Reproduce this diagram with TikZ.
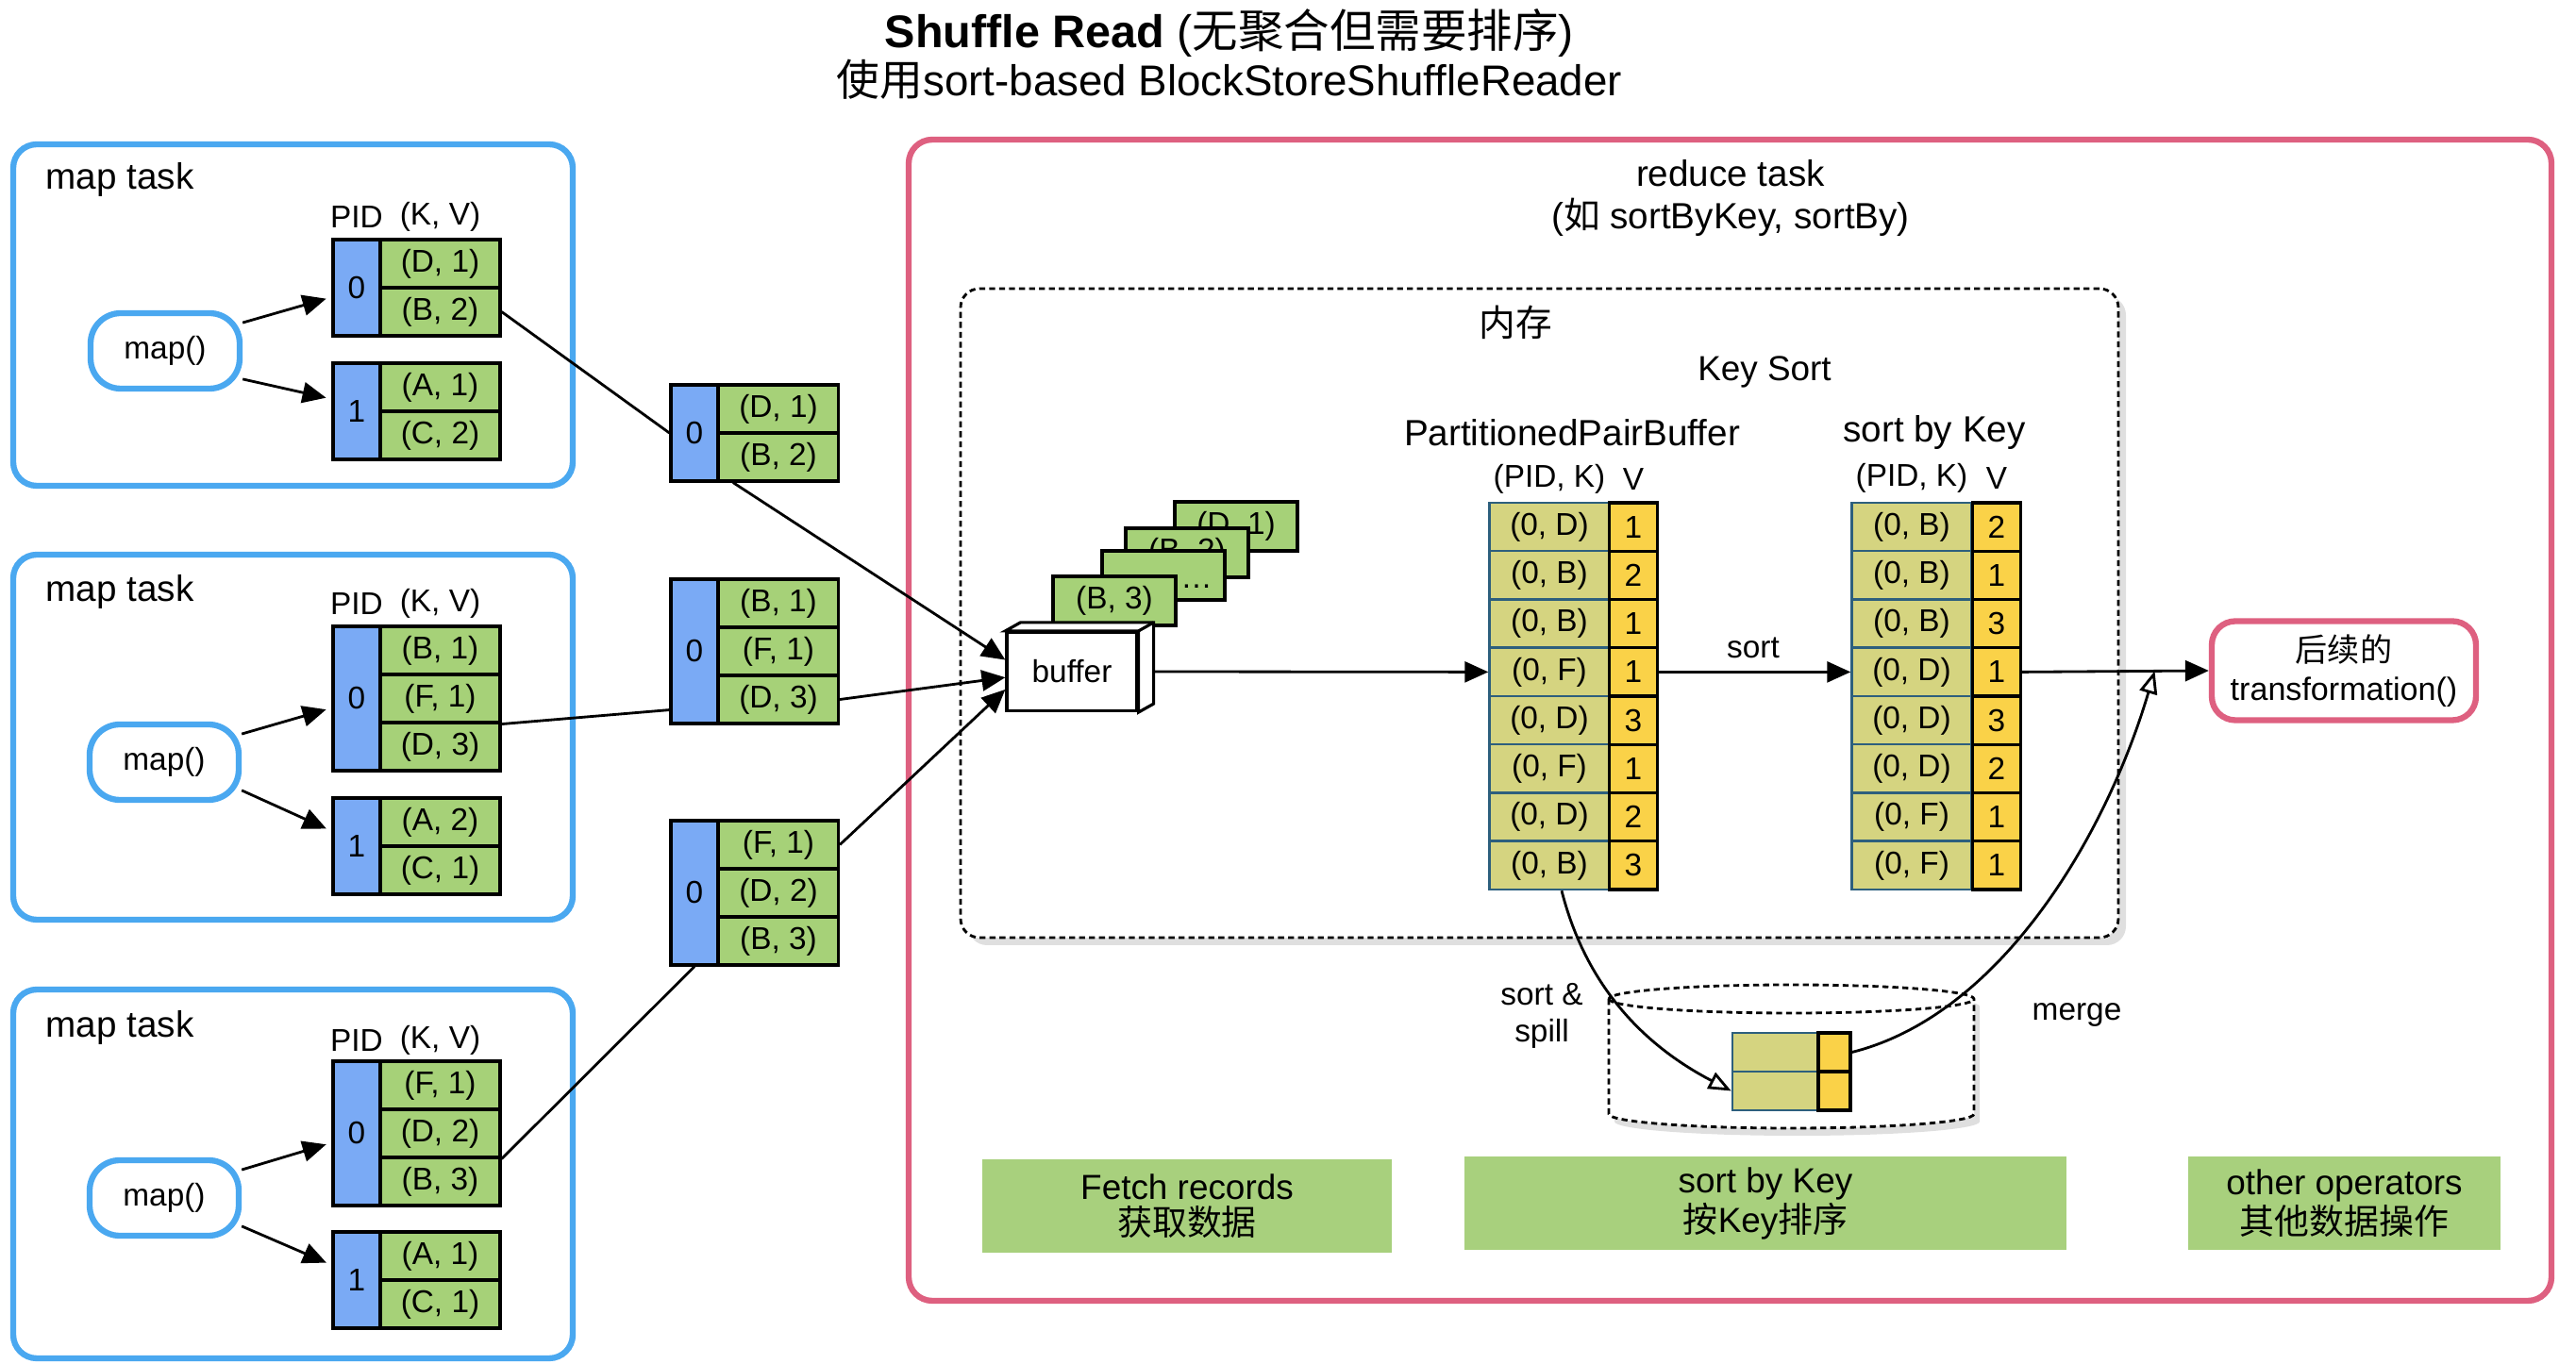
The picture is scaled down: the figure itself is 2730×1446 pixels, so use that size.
\documentclass[tikz,border=0pt]{standalone}
\usepackage{fontspec}
\setmainfont{Liberation Sans}
\newfontfamily\cjk{Noto Sans CJK SC}
\usetikzlibrary{arrows.meta,shadows,calc}

\definecolor{taskblue}{RGB}{74,168,240}
\definecolor{reducered}{RGB}{222,96,128}
\definecolor{pidblue}{RGB}{122,170,245}
\definecolor{kvgreen}{RGB}{166,209,120}
\definecolor{keyolive}{RGB}{213,212,128}
\definecolor{keyline}{RGB}{45,95,125}
\definecolor{vyellow}{RGB}{250,210,72}
\definecolor{stagegreen}{RGB}{168,208,125}

\begin{document}
\begin{tikzpicture}[x=0.1mm,y=-0.1mm,
    every node/.style={inner sep=0pt},
    taskbox/.style={draw=taskblue,line width=1.8pt,rounded corners=2.5mm},
    mapfn/.style={draw=taskblue,line width=1.8pt,rounded corners=3.2mm,minimum width=15.8mm,minimum height=8mm,font=\fontsize{9.5}{11}\selectfont},
    pidcell/.style={draw=black,fill=pidblue,line width=0.9pt,minimum width=5mm,font=\fontsize{9.5}{11}\selectfont},
    kvcell/.style={draw=black,fill=kvgreen,line width=0.9pt,minimum width=12.7mm,minimum height=5.1mm,font=\fontsize{9.5}{11}\selectfont},
    keycell/.style={draw=keyline,fill=keyolive,line width=0.7pt,minimum width=12.7mm,minimum height=5.125mm,font=\fontsize{9.5}{11}\selectfont},
    valcell/.style={draw=black,fill=vyellow,line width=0.9pt,minimum width=5.1mm,minimum height=5.125mm,font=\fontsize{9.5}{11}\selectfont},
    card/.style={draw=black,fill=kvgreen,line width=0.9pt,minimum width=13mm,minimum height=5.2mm,font=\fontsize{9.5}{11}\selectfont},
    memline/.style={draw=black,line width=0.8pt,dash pattern=on 1.8pt off 1.2pt},
    stagebox/.style={fill=stagegreen,align=center,font=\fontsize{10.5}{10.8}\selectfont,minimum height=9.9mm},
    lbl/.style={font=\fontsize{9.5}{11}\selectfont},
    biglbl/.style={font=\fontsize{11}{13}\selectfont},
    arr/.style={-{Triangle[length=2.5mm,width=2.2mm]},line width=0.8pt},
    openarr/.style={-{Triangle[open,length=2.4mm,width=1.9mm,fill=white]},line width=0.8pt},
    link/.style={line width=0.8pt}]
  \useasboundingbox (0,0) rectangle (2730,1446);

  % title
  \node[font=\fontsize{13.8}{16}\selectfont] (title) at (1303,35) {\textbf{Shuffle Read} ({\cjk 无聚合但需要排序})};
  \node[font=\fontsize{13}{15}\selectfont] (subtitle) at (1303,84) {{\cjk 使用}sort-based BlockStoreShuffleReader};

  % map task 1
  \node[taskbox,minimum width=59.3mm,minimum height=36.2mm] (task1) at (310.5,334) {};
  \node[biglbl,anchor=west] (task1lbl) at (48,191) {map task};
  \node[mapfn] (map1) at (175,372) {map()};
  \node[lbl] (t1pid) at (378,230) {PID};
  \node[lbl] (t1kv) at (466.5,230) {(K, V)};
  \node[pidcell,minimum height=10.2mm] (t1p0) at (378,305) {0};
  \node[kvcell] (t1p0a) at (466.5,279.5) {(D, 1)};
  \node[kvcell] (t1p0b) at (466.5,330.5) {(B, 2)};
  \node[pidcell,minimum height=10.2mm] (t1p1) at (378,436) {1};
  \node[kvcell] (t1p1a) at (466.5,410.5) {(A, 1)};
  \node[kvcell] (t1p1b) at (466.5,461.5) {(C, 2)};
  \draw[arr,shorten >=0.6mm] (map1.20) -- ([yshift=-1mm]t1p0.west);
  \draw[arr,shorten >=0.6mm] (map1.-20) -- ([yshift=1.3mm]t1p1.west);

  % map task 2
  \node[taskbox,minimum width=59.3mm,minimum height=38.7mm] (task2) at (310.5,781.5) {};
  \node[biglbl,anchor=west] (task2lbl) at (48,628) {map task};
  \node[mapfn] (map2) at (174,808) {map()};
  \node[lbl] (t2pid) at (378,640) {PID};
  \node[lbl] (t2kv) at (466.5,640) {(K, V)};
  \node[pidcell,minimum height=15.3mm] (t2p0) at (378,740.5) {0};
  \node[kvcell] (t2p0a) at (466.5,689.5) {(B, 1)};
  \node[kvcell] (t2p0b) at (466.5,740.5) {(F, 1)};
  \node[kvcell] (t2p0c) at (466.5,791.5) {(D, 3)};
  \node[pidcell,minimum height=10.2mm] (t2p1) at (378,897) {1};
  \node[kvcell] (t2p1a) at (466.5,871.5) {(A, 2)};
  \node[kvcell] (t2p1b) at (466.5,922.5) {(C, 1)};
  \draw[arr,shorten >=0.6mm] (map2.20) -- ([yshift=-1mm]t2p0.west);
  \draw[arr,shorten >=0.6mm] (map2.-20) -- ([yshift=1.6mm]t2p1.west);

  % map task 3
  \node[taskbox,minimum width=59.3mm,minimum height=39.1mm] (task3) at (310.5,1244.5) {};
  \node[biglbl,anchor=west] (task3lbl) at (48,1090) {map task};
  \node[mapfn] (map3) at (174,1270) {map()};
  \node[lbl] (t3pid) at (378,1103) {PID};
  \node[lbl] (t3kv) at (466.5,1103) {(K, V)};
  \node[pidcell,minimum height=15.3mm] (t3p0) at (378,1201.5) {0};
  \node[kvcell] (t3p0a) at (466.5,1150.5) {(F, 1)};
  \node[kvcell] (t3p0b) at (466.5,1201.5) {(D, 2)};
  \node[kvcell] (t3p0c) at (466.5,1252.5) {(B, 3)};
  \node[pidcell,minimum height=10.2mm] (t3p1) at (378,1357) {1};
  \node[kvcell] (t3p1a) at (466.5,1331.5) {(A, 1)};
  \node[kvcell] (t3p1b) at (466.5,1382.5) {(C, 1)};
  \draw[arr,shorten >=0.6mm] (map3.20) -- ([yshift=-1mm]t3p0.west);
  \draw[arr,shorten >=0.6mm] (map3.-20) -- ([yshift=1.6mm]t3p1.west);

  % fetched blocks
  \node[pidcell,minimum height=10.2mm] (m1pid) at (736,459) {0};
  \node[kvcell] (m1a) at (825,433.5) {(D, 1)};
  \node[kvcell] (m1b) at (825,484.5) {(B, 2)};
  \node[pidcell,minimum height=15.3mm] (m2pid) at (736,690.5) {0};
  \node[kvcell] (m2a) at (825,639.5) {(B, 1)};
  \node[kvcell] (m2b) at (825,690.5) {(F, 1)};
  \node[kvcell] (m2c) at (825,741.5) {(D, 3)};
  \node[pidcell,minimum height=15.3mm] (m3pid) at (736,946.5) {0};
  \node[kvcell] (m3a) at (825,895.5) {(F, 1)};
  \node[kvcell] (m3b) at (825,946.5) {(D, 2)};
  \node[kvcell] (m3c) at (825,997.5) {(B, 3)};
  \draw[link] (t1p0b.east) -- (m1pid.west);
  \draw[link] (t2p0b.south east) -- ([yshift=1.6mm]m2pid.south west);
  \draw[link] (t3p0b.south east) -- (m3pid.south);

  % reduce task
  \node[draw=reducered,line width=1.8pt,rounded corners=2.5mm,minimum width=174.1mm,minimum height=123.1mm] (reduce) at (1833.5,763.5) {};
  \node[biglbl,align=center,font=\fontsize{11}{13}\selectfont] (reducelbl) at (1834,210) {reduce task\\({\cjk 如} sortByKey, sortBy)};
  \node[memline,rounded corners=2mm,fill=white,drop shadow={shadow xshift=0.8mm,shadow yshift=-0.8mm,opacity=0.25},minimum width=122.7mm,minimum height=68.8mm] (mem) at (1631.5,650) {};
  \node[biglbl] (memlbl) at (1606,342) {\cjk 内存};
  \node[font=\fontsize{10.5}{12}\selectfont] (keysort) at (1870,394) {Key Sort};

  % records waiting in the buffer
  \node[card] (card1) at (1310,558) {(D, 1)};
  \node[card] (card2) at (1258,586) {(B, 2)};
  \node[card] (card3) at (1233,610) {};
  \node[lbl] (dots) at (1268,622) {…};
  \node[card] (card4) at (1181,637) {(B, 3)};
  \node[draw=black,fill=white,line width=0.9pt,minimum width=13.8mm,minimum height=8.3mm,lbl] (buffer) at (1136,712) {buffer};
  \draw[fill=white,line width=0.9pt] (buffer.north west) -- ([shift={(16,-9)}]buffer.north west) -- ([shift={(16,-9)}]buffer.north east)
    -- ([shift={(16,-9)}]buffer.south east) -- (buffer.south east) -- (buffer.north east) -- cycle;
  \draw[line width=0.9pt] (buffer.north east) -- ([shift={(16,-9)}]buffer.north east);
  \draw[arr] ([xshift=1.7mm]m1b.south west) -- (buffer.170);
  \draw[arr] (m2c.east) -- (buffer.185);
  \draw[arr] (m3a.east) -- (buffer.195);

  % PartitionedPairBuffer
  \node[biglbl] (ppblbl) at (1666,459) {PartitionedPairBuffer};
  \node[lbl] (ppbkhd) at (1642,508) {(PID, K)};
  \node[lbl] (ppbvhd) at (1731,508) {V};
  \node[keycell] (ppb1k) at (1642,558.6) {(0, D)};
  \node[valcell] (ppb1v) at (1731,558.6) {1};
  \node[keycell] (ppb2k) at (1642,609.9) {(0, B)};
  \node[valcell] (ppb2v) at (1731,609.9) {2};
  \node[keycell] (ppb3k) at (1642,661.1) {(0, B)};
  \node[valcell] (ppb3v) at (1731,661.1) {1};
  \node[keycell] (ppb4k) at (1642,712.4) {(0, F)};
  \node[valcell] (ppb4v) at (1731,712.4) {1};
  \node[keycell] (ppb5k) at (1642,763.6) {(0, D)};
  \node[valcell] (ppb5v) at (1731,763.6) {3};
  \node[keycell] (ppb6k) at (1642,814.9) {(0, F)};
  \node[valcell] (ppb6v) at (1731,814.9) {1};
  \node[keycell] (ppb7k) at (1642,866.1) {(0, D)};
  \node[valcell] (ppb7v) at (1731,866.1) {2};
  \node[keycell] (ppb8k) at (1642,917.4) {(0, B)};
  \node[valcell] (ppb8v) at (1731,917.4) {3};
  \draw[arr] ([xshift=1.6mm]buffer.east) -- (ppb4k.west);

  % sorted by key
  \node[biglbl] (srtlbl) at (2050,459) {sort by Key};
  \node[lbl] (srtkhd) at (2026,507) {(PID, K)};
  \node[lbl] (srtvhd) at (2116,507) {V};
  \node[keycell] (srt1k) at (2026,558.6) {(0, B)};
  \node[valcell] (srt1v) at (2116,558.6) {2};
  \node[keycell] (srt2k) at (2026,609.9) {(0, B)};
  \node[valcell] (srt2v) at (2116,609.9) {1};
  \node[keycell] (srt3k) at (2026,661.1) {(0, B)};
  \node[valcell] (srt3v) at (2116,661.1) {3};
  \node[keycell] (srt4k) at (2026,712.4) {(0, D)};
  \node[valcell] (srt4v) at (2116,712.4) {1};
  \node[keycell] (srt5k) at (2026,763.6) {(0, D)};
  \node[valcell] (srt5v) at (2116,763.6) {3};
  \node[keycell] (srt6k) at (2026,814.9) {(0, D)};
  \node[valcell] (srt6v) at (2116,814.9) {2};
  \node[keycell] (srt7k) at (2026,866.1) {(0, F)};
  \node[valcell] (srt7v) at (2116,866.1) {1};
  \node[keycell] (srt8k) at (2026,917.4) {(0, F)};
  \node[valcell] (srt8v) at (2116,917.4) {1};
  \draw[arr] (ppb4v.east) -- (srt4k.west);
  \node[lbl] (sortlbl) at (1858,687) {sort};

  % next transformation
  \node[draw=reducered,line width=1.8pt,rounded corners=2.5mm,minimum width=28mm,minimum height=10.5mm,align=center,font=\fontsize{9.7}{11.6}\selectfont] (trans) at (2484,711) {{\cjk 后续的}\\transformation()};
  \draw[arr] (srt4v.east) -- (trans.west);
  \coordinate (mergept) at ($(srt4v.east)!0.71!(trans.west)$);

  % spill on disk
  \draw[memline,fill=white,drop shadow={shadow xshift=0.6mm,shadow yshift=-0.8mm,opacity=0.25}] (1705,1059) -- (1705,1181)
    arc[start angle=180,end angle=360,x radius=19.35mm,y radius=1.5mm] -- (2092,1059)
    arc[start angle=0,end angle=180,x radius=19.35mm,y radius=1.5mm] -- cycle;
  \draw[memline] (1705,1059) arc[start angle=180,end angle=360,x radius=19.35mm,y radius=1.5mm];
  \node[keycell,minimum width=9.1mm,minimum height=4.1mm] (spill1k) at (1881.5,1115.5) {};
  \node[valcell,minimum width=3.4mm,minimum height=4.1mm] (spill1v) at (1944,1115.5) {};
  \node[keycell,minimum width=9.1mm,minimum height=4.1mm] (spill2k) at (1881.5,1156.5) {};
  \node[valcell,minimum width=3.4mm,minimum height=4.1mm] (spill2v) at (1944,1156.5) {};
  \draw[openarr] ([xshift=1.3mm]ppb8k.south) .. controls +(25,98) and +(-96,-50) .. (spill2k.west);
  \draw[openarr] (spill1v.east) .. controls +(160,-40) and +(-50,170) .. (mergept);
  \node[lbl,align=center] (spilllbl) at (1634,1077) {sort \&\\spill};
  \node[lbl] (mergelbl) at (2201,1076) {merge};

  % stages
  \node[stagebox,minimum width=43.4mm] (fetch) at (1258,1279) {Fetch records\\{\cjk 获取数据}};
  \node[stagebox,minimum width=63.8mm] (sortstage) at (1871,1276) {sort by Key\\{\cjk 按}Key{\cjk 排序}};
  \node[stagebox,minimum width=33.1mm] (others) at (2484.5,1276) {other operators\\{\cjk 其他数据操作}};
\end{tikzpicture}
\end{document}
